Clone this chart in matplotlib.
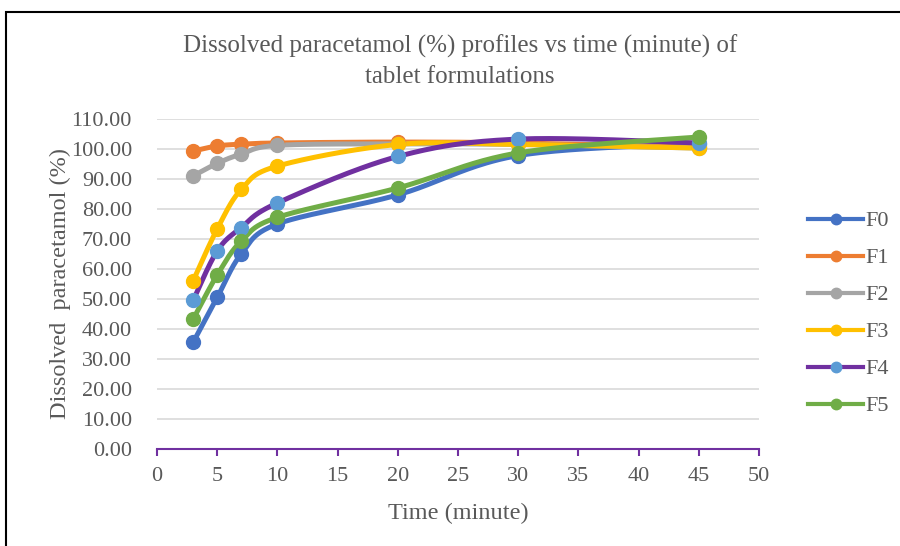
"""
Dissolution profiles of paracetamol tablet formulations (Excel-style smoothed lines).
"""

import numpy as np
import matplotlib.pyplot as plt
from matplotlib.patches import Rectangle

time_min = [3, 5, 7, 10, 20, 30, 45]
labels = ["F0", "F1", "F2", "F3", "F4", "F5"]
f0 = [35.5, 50.5, 65.0, 75.0, 84.7, 97.8, 101.8]
f1 = [99.3, 101.0, 101.6, 102.0, 102.3, 102.0, 100.5]
f2 = [91.0, 95.2, 98.3, 101.2, 101.7, 101.5, 100.3]
f3 = [56.0, 73.3, 86.5, 94.3, 101.5, 101.5, 100.3]
f4 = [49.5, 66.0, 73.8, 82.0, 97.5, 103.3, 102.0]
f5 = [43.2, 58.0, 69.3, 77.2, 87.0, 98.7, 104.0]
series = [f0, f1, f2, f3, f4, f5]

line_colors = ["#4472C4", "#ED7D31", "#A5A5A5", "#FFC000", "#7030A0", "#70AD47"]
marker_colors = ["#4472C4", "#ED7D31", "#A5A5A5", "#FFC000", "#5B9BD5", "#70AD47"]
text_color = "#595959"


def smooth(xs, ys, n=40):
    # Catmull-Rom through the points, drawn as cubic Bezier segments (like Excel)
    p = np.column_stack([xs, ys]).astype(float)
    out = [p[0]]
    for i in range(len(p) - 1):
        p0 = p[i - 1] if i > 0 else p[i]
        p3 = p[i + 2] if i + 2 < len(p) else p[i + 1]
        c1 = p[i] + (p[i + 1] - p0) / 6
        c2 = p[i + 1] - (p3 - p[i]) / 6
        t = np.linspace(0, 1, n)[1:, None]
        seg = ((1 - t) ** 3 * p[i] + 3 * (1 - t) ** 2 * t * c1
               + 3 * (1 - t) * t ** 2 * c2 + t ** 3 * p[i + 1])
        out.extend(seg)
    out = np.array(out)
    return out[:, 0], out[:, 1]


plt.rcParams["font.family"] = ["Liberation Serif", "DejaVu Serif"]

fig = plt.figure(figsize=(9, 5.46), dpi=100)
ax = fig.add_axes([0.1744, 0.1777, 0.669, 0.6044])

for lab, ys, lc, mc in zip(labels, series, line_colors, marker_colors):
    sx, sy = smooth(time_min, ys)
    ax.plot(sx, sy, color=lc, lw=3.6, solid_capstyle="round", zorder=3)
    ax.plot(time_min, ys, ls="none", marker="o", ms=10, color=mc, zorder=4)
    ax.plot([], [], color=lc, lw=3.0, marker="o", ms=7.5, mfc=mc, mec=mc, label=lab)

ax.set_xlim(0, 50)
ax.set_ylim(0, 110)
ax.set_xticks(np.arange(0, 51, 5))
ax.set_yticks(np.arange(0, 111, 10))
ax.yaxis.set_major_formatter(plt.FuncFormatter(lambda v, _: f"{v:.2f}"))
ax.grid(axis="y", color="#D9D9D9", lw=1.2)
ax.set_axisbelow(True)
for s in ["top", "right", "left"]:
    ax.spines[s].set_visible(False)
ax.spines["bottom"].set_color("#7030A0")
ax.spines["bottom"].set_linewidth(1.5)
ax.spines["bottom"].set_zorder(2)
ax.tick_params(axis="x", colors=text_color, labelsize=16, length=5, width=1.5, color="#7030A0", pad=8)
ax.tick_params(axis="y", colors=text_color, labelsize=16, length=0, pad=18)

ax.set_xlabel("Time (minute)", fontsize=17.5, color=text_color, labelpad=12)
ax.set_ylabel("Dissolved  paracetamol (%)", fontsize=17.5, color=text_color, labelpad=0)
fig.text(0.511, 0.888, "Dissolved paracetamol (%) profiles vs time (minute) of\ntablet formulations",
         ha="center", va="center", fontsize=18, color=text_color, linespacing=1.45)

leg = ax.legend(loc="center left", bbox_to_anchor=(1.067, 0.41), frameon=False, fontsize=16,
                handlelength=2.45, labelspacing=0.74, handletextpad=0.1, borderaxespad=0)
for t in leg.get_texts():
    t.set_color(text_color)

fig.patches.append(Rectangle((0.0067, -0.05), 1.1, 1.028, transform=fig.transFigure,
                             fill=False, edgecolor="black", lw=1.5))

fig.savefig("out.png", dpi=100)
